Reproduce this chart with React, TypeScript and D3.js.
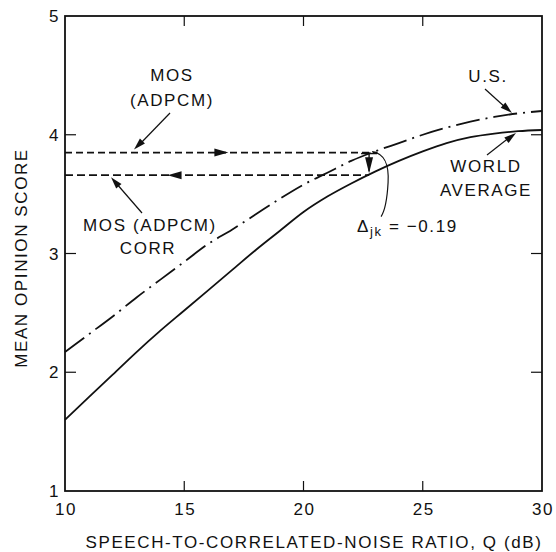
import React from "react";
import * as d3 from "d3";

// Axis ticks
const qTicks = [10, 15, 20, 25, 30];
const mosTicks = [1, 2, 3, 4, 5];

// World average MOS vs Q (solid curve)
const worldQ = [10, 11, 12, 13, 14, 15, 16, 17, 18, 19, 20, 21, 22, 23, 24, 25, 26, 27, 28, 29, 30];
const worldMos = [1.6, 1.79, 1.98, 2.17, 2.35, 2.52, 2.69, 2.86, 3.03, 3.19, 3.35, 3.48, 3.59, 3.69, 3.78, 3.86, 3.93, 3.98, 4.01, 4.03, 4.04];

// U.S. MOS vs Q (dash-dot curve)
const usQ = [10, 11, 12, 13, 14, 15, 16, 17, 18, 19, 20, 21, 22, 23, 24, 25, 26, 27, 28, 29, 30];
const usMos = [2.17, 2.32, 2.47, 2.63, 2.78, 2.93, 3.08, 3.2, 3.33, 3.46, 3.58, 3.68, 3.78, 3.86, 3.93, 4.0, 4.06, 4.11, 4.15, 4.18, 4.2];

// ADPCM reference levels and the correction between them
const mosAdpcm = 3.85;
const mosAdpcmCorr = 3.66;
const deltaJk = -0.19;
const markQ = 22.75;

const W = 556;
const H = 552;
const FONT = "'Liberation Sans', Arial, Helvetica, sans-serif";

function arrowHead(tipX: number, tipY: number, fromX: number, fromY: number, len = 12, half = 3.5) {
  const a = Math.atan2(tipY - fromY, tipX - fromX);
  const bx = tipX - len * Math.cos(a);
  const by = tipY - len * Math.sin(a);
  const px = -Math.sin(a) * half;
  const py = Math.cos(a) * half;
  return `M${tipX},${tipY}L${bx + px},${by + py}L${bx - px},${by - py}Z`;
}

export default function App() {
  const x = d3.scaleLinear().domain([10, 30]).range([65, 542]);
  const y = d3.scaleLinear().domain([1, 5]).range([491, 16]);

  const line = d3
    .line<[number, number]>()
    .x((d) => x(d[0]))
    .y((d) => y(d[1]))
    .curve(d3.curveMonotoneX);

  const worldPath = line(worldQ.map((q, i) => [q, worldMos[i]]) as [number, number][]) || "";
  const usPath = line(usQ.map((q, i) => [q, usMos[i]]) as [number, number][]) || "";

  const [x0, x1] = x.range();
  const [yb, yt] = y.range();
  const innerQ = qTicks.slice(1, -1);
  const innerMos = mosTicks.slice(1, -1);

  const yUp = y(mosAdpcm);
  const yLo = y(mosAdpcmCorr);
  const xm = x(markQ);
  const deltaText = ` = ${deltaJk.toFixed(2).replace("-", "−")}`;

  const txt = { fontFamily: FONT, fontSize: 17, letterSpacing: 1.6, fill: "#111" } as const;

  return (
    <svg width={W} height={H} style={{ position: "absolute", left: 0, top: 0, background: "#fff" }}>
      <rect width={W} height={H} fill="#fff" />
      {/* frame */}
      <rect x={x0} y={yt} width={x1 - x0} height={yb - yt} fill="none" stroke="#111" strokeWidth={1.8} />

      {/* inward ticks on all four sides */}
      {innerQ.map((q) => (
        <g key={"qt" + q}>
          <line x1={x(q)} x2={x(q)} y1={yb} y2={yb - 10} stroke="#111" strokeWidth={1.2} />
          <line x1={x(q)} x2={x(q)} y1={yt} y2={yt + 10} stroke="#111" strokeWidth={1.2} />
        </g>
      ))}
      {innerMos.map((m) => (
        <g key={"mt" + m}>
          <line x1={x0} x2={x0 + 11} y1={y(m)} y2={y(m)} stroke="#111" strokeWidth={1.2} />
          <line x1={x1} x2={x1 - 11} y1={y(m)} y2={y(m)} stroke="#111" strokeWidth={1.2} />
        </g>
      ))}

      {/* tick labels */}
      {qTicks.map((q) => (
        <text key={"ql" + q} x={x(q) + 1} y={515} textAnchor="middle" {...txt}>
          {q}
        </text>
      ))}
      {mosTicks.map((m) => (
        <text key={"ml" + m} x={60} y={y(m)} dy="0.36em" textAnchor="end" {...txt}>
          {m}
        </text>
      ))}

      {/* axis titles */}
      <text x={314} y={548} textAnchor="middle" {...txt}>
        SPEECH-TO-CORRELATED-NOISE RATIO, Q (dB)
      </text>
      <text transform="translate(27,258) rotate(-90)" textAnchor="middle" {...txt}>
        MEAN OPINION SCORE
      </text>

      {/* curves */}
      <path d={usPath} fill="none" stroke="#111" strokeWidth={1.8} strokeDasharray="24,6,2,6" />
      <path d={worldPath} fill="none" stroke="#111" strokeWidth={1.8} />

      {/* ADPCM levels */}
      <line x1={x0} x2={x(markQ + 0.35)} y1={yUp} y2={yUp} stroke="#111" strokeWidth={1.8} strokeDasharray="7,4" />
      <line x1={x0} x2={xm} y1={yLo} y2={yLo} stroke="#111" strokeWidth={1.8} strokeDasharray="8,4" />
      <path d={arrowHead(x(16.85), yUp, x(15), yUp, 14, 4)} fill="#111" />
      <path d={arrowHead(x(14.3), yLo, x(16), yLo, 14, 4)} fill="#111" />

      {/* correction marker */}
      <line x1={xm - 8} x2={xm + 8} y1={yUp + 1} y2={yUp + 1} stroke="#111" strokeWidth={1.4} />
      <line x1={xm} x2={xm} y1={yUp} y2={yLo - 4} stroke="#111" strokeWidth={1.4} />
      <path d={arrowHead(xm, yLo - 2, xm, yUp, 16, 4)} fill="#111" />
      <path
        d={`M${xm + 3},${yUp - 1} C${xm + 16},${yUp + 1} ${xm + 20},${yUp + 12} ${xm + 19},${yUp + 30} S${xm + 16},${yUp + 58} ${xm + 12},${yUp + 64}`}
        fill="none"
        stroke="#111"
        strokeWidth={1.2}
      />
      <text x={357} y={232} {...txt}>
        Δ
        <tspan fontSize={13} dy={4}>jk</tspan>
        <tspan dy={-4}>{deltaText}</tspan>
      </text>

      {/* labels with leader arrows */}
      <text x={172} y={81} textAnchor="middle" {...txt}>MOS</text>
      <text x={172} y={106} textAnchor="middle" {...txt}>(ADPCM)</text>
      <line x1={170} y1={113} x2={139} y2={145} stroke="#111" strokeWidth={1.2} />
      <path d={arrowHead(134, yUp - 3, 170, 113, 12, 3.5)} fill="#111" />

      <text x={150} y={231} textAnchor="middle" {...txt}>MOS (ADPCM)</text>
      <text x={148} y={254} textAnchor="middle" {...txt}>CORR</text>
      <line x1={142} y1={213} x2={116} y2={183} stroke="#111" strokeWidth={1.2} />
      <path d={arrowHead(111, yLo + 2, 142, 213, 12, 3.5)} fill="#111" />

      <text x={488} y={82} textAnchor="middle" {...txt}>U.S.</text>
      <line x1={485} y1={89} x2={506} y2={108} stroke="#111" strokeWidth={1.2} />
      <path d={arrowHead(512, 113, 485, 89, 12, 3.5)} fill="#111" />

      <text x={486} y={172} textAnchor="middle" {...txt}>WORLD</text>
      <text x={486} y={196} textAnchor="middle" {...txt}>AVERAGE</text>
      <line x1={487} y1={155} x2={510} y2={137} stroke="#111" strokeWidth={1.2} />
      <path d={arrowHead(516, y(4.04) + 3, 487, 155, 12, 3.5)} fill="#111" />
    </svg>
  );
}
